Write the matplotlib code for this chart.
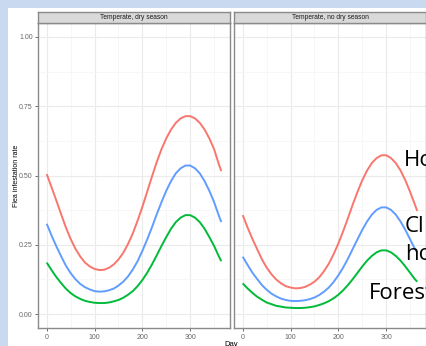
import matplotlib.pyplot as plt
from matplotlib.patches import Rectangle

days = [0, 10, 20, 30, 40, 50, 60, 70, 80, 90, 100, 110, 120, 130, 140, 150, 160, 170, 180,
        190, 200, 210, 220, 230, 240, 250, 260, 270, 280, 290, 300, 310, 320, 330, 340, 350,
        360, 365]

# Temperate, dry season
dry_red = [0.505, 0.458, 0.410, 0.361, 0.313, 0.271, 0.236, 0.208, 0.186, 0.172, 0.163, 0.159,
           0.160, 0.167, 0.179, 0.197, 0.221, 0.253, 0.291, 0.337, 0.387, 0.441, 0.496, 0.548,
           0.595, 0.634, 0.666, 0.690, 0.706, 0.714, 0.714, 0.706, 0.690, 0.666, 0.634, 0.595,
           0.540, 0.516]
dry_blue = [0.326, 0.284, 0.245, 0.209, 0.175, 0.148, 0.126, 0.109, 0.097, 0.089, 0.083, 0.081,
            0.082, 0.086, 0.092, 0.103, 0.117, 0.136, 0.161, 0.191, 0.228, 0.269, 0.313, 0.360,
            0.404, 0.445, 0.480, 0.508, 0.526, 0.536, 0.536, 0.526, 0.508, 0.480, 0.445, 0.404,
            0.355, 0.332]
dry_green = [0.186, 0.159, 0.134, 0.112, 0.092, 0.076, 0.064, 0.055, 0.048, 0.044, 0.041, 0.040,
             0.040, 0.042, 0.046, 0.051, 0.059, 0.070, 0.083, 0.101, 0.123, 0.149, 0.179, 0.212,
             0.246, 0.278, 0.308, 0.332, 0.348, 0.357, 0.357, 0.348, 0.332, 0.308, 0.278, 0.246,
             0.208, 0.191]

# Temperate, no dry season
wet_red = [0.357, 0.313, 0.272, 0.235, 0.198, 0.168, 0.144, 0.125, 0.111, 0.101, 0.096, 0.093,
           0.094, 0.098, 0.106, 0.117, 0.133, 0.155, 0.182, 0.216, 0.255, 0.299, 0.346, 0.395,
           0.441, 0.483, 0.518, 0.545, 0.563, 0.573, 0.573, 0.563, 0.545, 0.518, 0.483, 0.441,
           0.395, 0.372]
wet_blue = [0.207, 0.178, 0.150, 0.127, 0.105, 0.088, 0.074, 0.064, 0.056, 0.051, 0.048, 0.047,
            0.048, 0.050, 0.054, 0.060, 0.069, 0.081, 0.096, 0.116, 0.140, 0.168, 0.200, 0.235,
            0.270, 0.304, 0.334, 0.359, 0.376, 0.385, 0.385, 0.376, 0.359, 0.334, 0.304, 0.270,
            0.235, 0.222]
wet_green = [0.111, 0.093, 0.077, 0.063, 0.052, 0.042, 0.036, 0.030, 0.027, 0.024, 0.023, 0.022,
             0.022, 0.023, 0.025, 0.028, 0.033, 0.039, 0.047, 0.057, 0.070, 0.086, 0.105, 0.126,
             0.149, 0.172, 0.193, 0.210, 0.223, 0.230, 0.230, 0.223, 0.210, 0.193, 0.172, 0.149,
             0.126, 0.117]

facets = ['Temperate, dry season', 'Temperate, no dry season']
series = [[dry_red, dry_blue, dry_green], [wet_red, wet_blue, wet_green]]
colors = ['#F8766D', '#619CFF', '#00BA38']

x_ticks = [0, 100, 200, 300]
y_ticks = [0.0, 0.25, 0.5, 0.75, 1.0]
y_labels = ['0.00', '0.25', '0.50', '0.75', '1.00']

# overlaid slide labels (cut at the right edge of the screenshot)
labels = ['Ho', 'Cl', 'ho', 'Forest']
label_pos = [(404, 165.7), (405, 232.3), (405, 260.3), (369, 298.7)]

W, H = 426, 346
fig = plt.figure(figsize=(W / 100, H / 100), dpi=100, facecolor='#c9daf0')
fig.patches.append(Rectangle((8 / W, 0), 1, 1 - 8 / H, transform=fig.transFigure,
                             facecolor='white', edgecolor='none', zorder=-5))


def px_box(x0, y0, x1, y1):
    return [x0 / W, 1 - y1 / H, (x1 - x0) / W, (y1 - y0) / H]


border = '#8a8a8a'
panel_x = [38, 234]

for i, name in enumerate(facets):
    x0 = panel_x[i]
    ax = fig.add_axes(px_box(x0, 23, x0 + 192, 328))
    for vals, col in zip(series[i], colors):
        ax.plot(days, vals, color=col, linewidth=1.4, solid_capstyle='butt')

    ax.set_xlim(-18.25, 383.25)
    ax.set_ylim(-0.05, 1.05)
    ax.set_xticks(x_ticks)
    ax.set_xticks([50, 150, 250, 350], minor=True)
    ax.set_yticks(y_ticks)
    ax.set_yticks([0.125, 0.375, 0.625, 0.875], minor=True)
    ax.grid(which='major', color='#ebebeb', linewidth=0.8)
    ax.grid(which='minor', color='#f4f4f4', linewidth=0.5)
    ax.set_axisbelow(True)
    for s in ax.spines.values():
        s.set_color(border)
        s.set_linewidth(1.0)
    ax.tick_params(which='minor', length=0)
    ax.tick_params(axis='x', length=2.2, width=0.6, color='#555555', pad=2,
                   labelsize=5, labelcolor='#666666')
    if i == 0:
        ax.set_yticklabels(y_labels)
        ax.tick_params(axis='y', length=2.2, width=0.6, color='#555555', pad=1.5,
                       labelsize=5, labelcolor='#666666')
    else:
        ax.tick_params(axis='y', length=0, labelleft=False)
    for t in ax.get_xticklabels() + ax.get_yticklabels():
        t.set_family('Liberation Sans')

    strip = fig.add_axes(px_box(x0, 12, x0 + 192, 23))
    strip.set_facecolor('#d9d9d9')
    strip.set_xticks([])
    strip.set_yticks([])
    for s in strip.spines.values():
        s.set_color(border)
        s.set_linewidth(1.0)
    strip.text(0.5, 0.5, name, ha='center', va='center', fontsize=4.8,
               color='#1a1a1a', family='Liberation Sans', transform=strip.transAxes)

fig.text(16 / W, 1 - 175.5 / H, 'Flea infestation rate', rotation=90, ha='center',
         va='center', fontsize=5, family='Liberation Sans')
fig.text(231 / W, 1 - 344 / H, 'Day', ha='center', va='center', fontsize=5.5,
         family='Liberation Sans')

for txt, (lx, ly) in zip(labels, label_pos):
    fig.text(lx / W, 1 - ly / H, txt, ha='left', va='baseline', fontsize=16,
             family='Open Sans', color='black')

fig.savefig('out.png', dpi=100, facecolor=fig.get_facecolor())
